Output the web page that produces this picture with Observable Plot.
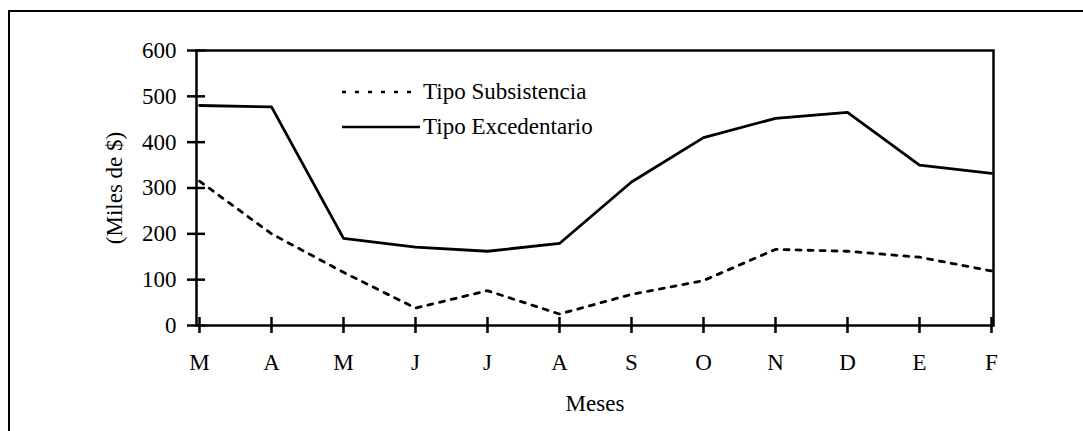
<!DOCTYPE html>
<html><head><meta charset="utf-8">
<script src="https://cdn.jsdelivr.net/npm/d3@7"></script>
<script src="https://cdn.jsdelivr.net/npm/@observablehq/plot@0.6"></script>
<style>
body{margin:0;background:#fff;}
#wrap{position:relative;width:1083px;height:431px;font-family:"Liberation Serif","Times New Roman",serif;overflow:hidden;}
#border{position:absolute;left:8px;top:10px;right:-10px;bottom:-10px;border-left:2.5px solid #000;border-top:2.5px solid #000;}
#legend{position:absolute;left:342px;top:74px;font-size:23px;color:#000;}
.row{display:flex;align-items:center;height:35px;}
.row svg{margin-right:3px;}
</style></head>
<body><div id="wrap"><div id="chart"></div><div id="border"></div><div id="legend"></div></div>
<script>
const months = ["Mar","Abr","May","Jun","Jul","Ago","Sep","Oct","Nov","Dic","Ene","Feb"];
const monthLabels = ["M","A","M","J","J","A","S","O","N","D","E","F"];
const subsistencia = [315,200,116,38,76,25,68,98,166,162,149,119];
const excedentario = [480,477,190,171,162,179,313,410,452,465,350,332];
const yTicks = [0,100,200,300,400,500,600];
const seriesNames = ["Tipo Subsistencia","Tipo Excedentario"];
const yLabel = "(Miles de $)";
const xLabel = "Meses";

const labelOf = new Map(months.map((m,i)=>[m,monthLabels[i]]));
const subsData = months.map((m,i)=>({month:m, value:subsistencia[i]}));
const excData = months.map((m,i)=>({month:m, value:excedentario[i]}));

const W = 1083, H = 431, ML = 196, MR = 90, MT = 50, MB = 106;
const FW = W - ML - MR, FH = H - MT - MB;
const font = '"Liberation Serif","Times New Roman",serif';

const chart = Plot.plot({
  width: W, height: H,
  marginLeft: ML, marginRight: MR, marginTop: MT, marginBottom: MB,
  style: {fontFamily: font, fontSize: "23px", color: "#000", background: "transparent"},
  x: {type: "point", domain: months, padding: 0},
  y: {domain: [0, 600]},
  marks: [
    Plot.frame({strokeWidth: 2.5, stroke: "#000"}),
    Plot.axisY({ticks: yTicks, tickSize: 9, tickPadding: 11, strokeWidth: 2.5,
      tickFormat: d => String(d), label: yLabel, labelAnchor: "center", labelOffset: 91, labelArrow: "none"}),
    Plot.tickY(yTicks, {y: d => d, stroke: "#000", strokeWidth: 2.5, insetRight: FW - 9}),
    Plot.axisX({tickSize: 8, tickPadding: 20, strokeWidth: 2.5,
      tickFormat: d => labelOf.get(d), label: xLabel, labelAnchor: "center", labelOffset: 85, labelArrow: "none"}),
    Plot.tickX(months, {x: d => d, stroke: "#000", strokeWidth: 2.5, insetTop: FH - 8}),
    Plot.line(excData, {x: "month", y: "value", stroke: "#000", strokeWidth: 2.8}),
    Plot.line(subsData, {x: "month", y: "value", stroke: "#000", strokeWidth: 2.8, strokeDasharray: "5,7"})
  ]
});
document.getElementById("chart").appendChild(chart);

const legend = document.getElementById("legend");
const styles = [{dash: "4,9"}, {dash: null}];
seriesNames.forEach((name, i) => {
  const row = document.createElement("div");
  row.className = "row";
  const ns = "http://www.w3.org/2000/svg";
  const s = document.createElementNS(ns, "svg");
  s.setAttribute("width", 78); s.setAttribute("height", 6);
  const l = document.createElementNS(ns, "line");
  l.setAttribute("x1", 0); l.setAttribute("x2", 78); l.setAttribute("y1", 3); l.setAttribute("y2", 3);
  l.setAttribute("stroke", "#000"); l.setAttribute("stroke-width", 2.5);
  if (styles[i].dash) l.setAttribute("stroke-dasharray", styles[i].dash);
  s.appendChild(l);
  row.appendChild(s);
  const t = document.createElement("span");
  t.textContent = name;
  row.appendChild(t);
  legend.appendChild(row);
});
</script>
</body></html>
